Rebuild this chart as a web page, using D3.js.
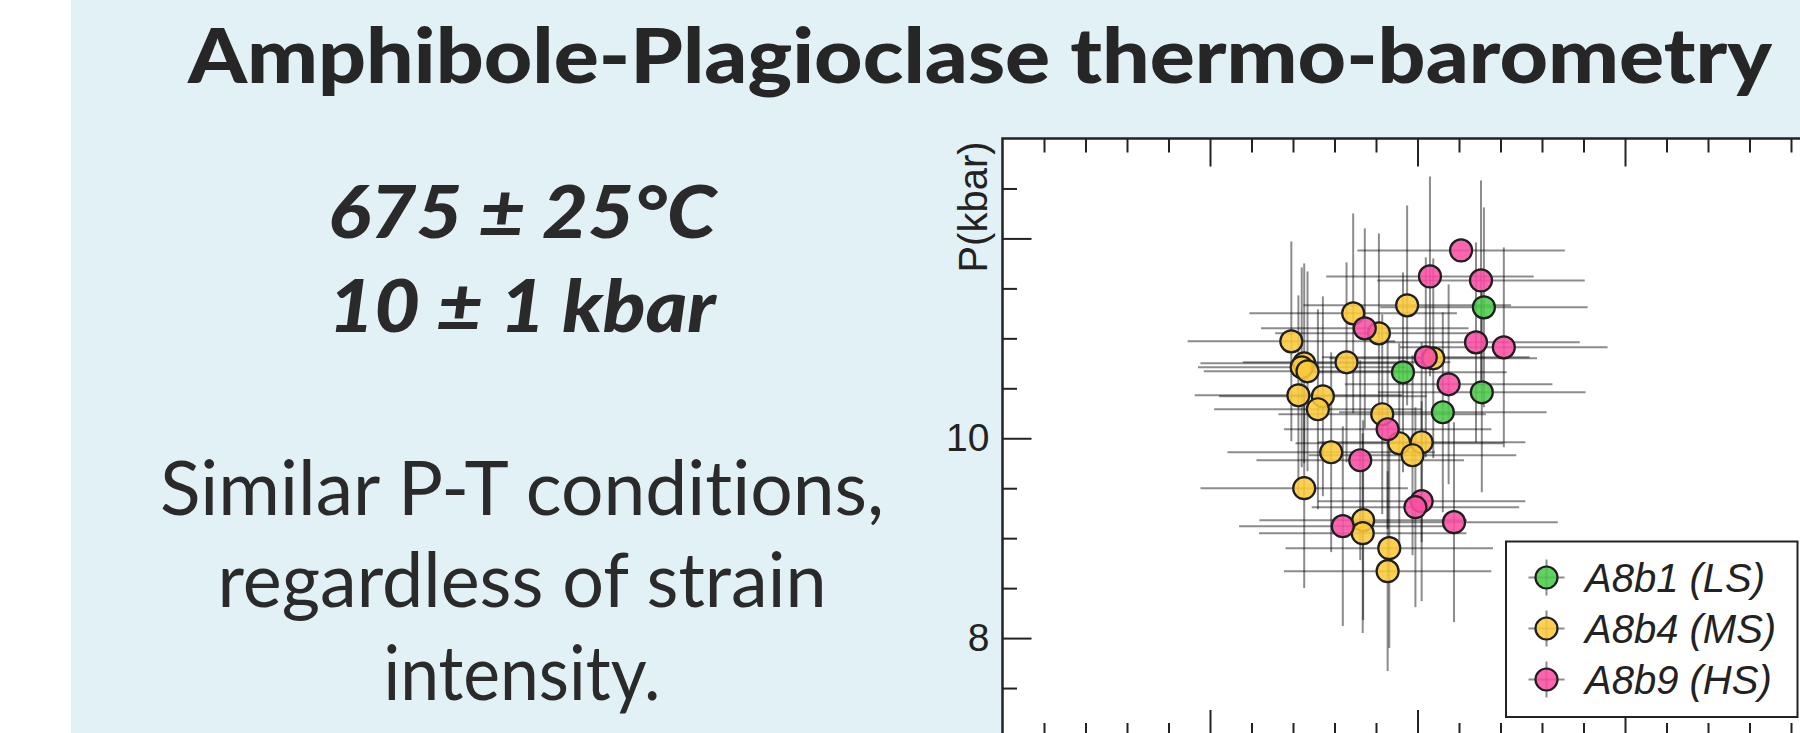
<!DOCTYPE html>
<html>
<head>
<meta charset="utf-8">
<script src="https://cdn.jsdelivr.net/npm/d3@7"></script>
<style>
  body { margin: 0; background: #fff; }
  svg { display: block; }
  text { font-variant-ligatures: none; }
</style>
</head>
<body>
<svg id="chart"></svg>
<script>
// Series (T in °C, P in kbar)
const seriesNames = ["A8b1 (LS)", "A8b4 (MS)", "A8b9 (HS)"];

const lsT = [691.0, 671.5, 690.5, 681.1];
const lsP = [11.31, 10.66, 10.46, 10.26];
const lsPerr = [1, 1, 1, 1];

const msT = [672.5, 659.5, 665.7, 644.6, 657.9, 647.7, 647.1, 648.5, 678.8, 646.3, 652.2,
             651.0, 666.5, 670.6, 676.0, 673.8, 654.2, 647.7, 661.9, 661.8, 668.2, 667.8];
const msP = [11.33, 11.25, 11.05, 10.97, 10.76, 10.75, 10.71, 10.67, 10.80, 10.43, 10.42,
             10.29, 10.24, 9.95, 9.96, 9.83, 9.86, 9.50, 9.18, 9.05, 8.90, 8.67];
const msPerr = [1, 1, 1, 1, 1, 1, 1, 1, 1, 1, 1, 1, 1, 1, 1, 1, 1, 1, 1, 1, 1, 1];

const hsT = [685.5, 678.0, 690.3, 662.3, 689.1, 695.8, 677.0, 682.5, 667.8, 661.2, 676.0, 674.5, 683.8, 657.0];
const hsP = [11.88, 11.62, 11.58, 11.10, 10.96, 10.91, 10.81, 10.54, 10.09, 9.78, 9.37, 9.31, 9.16, 9.12];
const hsPerr = [0, 1, 1, 1, 1, 1, 1, 1, 1, 1, 1, 1, 1, 1];

const tErr = 25; // °C, same for every point

// axis ticks
const yMajorTicks = [8, 10, 12];
const yTickLabels = ["8", "10", ""];
const xMajorTicks = [625, 675, 725, 775];

const colors = ["#4ccb4c", "#fcc93a", "#fb4fa3"];

const W = 1800, H = 733;
const svg = d3.select("#chart").attr("width", W).attr("height", H);

// panel background
svg.append("rect").attr("x", 71).attr("y", 0).attr("width", W - 71).attr("height", H).attr("fill", "#e1f1f5");

// fit a text element to a target width by a light stretch
function fit(sel, target) {
  const w = sel.node().getComputedTextLength();
  if (Math.abs(w - target) > 2) sel.attr("textLength", target).attr("lengthAdjust", "spacingAndGlyphs");
}

const txt = "#2a2a2a";
const title = svg.append("text").attr("x", 980).attr("y", 83).attr("text-anchor", "middle")
  .style("font-family", "Lato, 'Open Sans', sans-serif").style("font-weight", 900)
  .style("font-size", "76px").attr("fill", "#262626")
  .text("Amphibole-Plagioclase thermo-barometry");
fit(title, 1584);

const big = [
  { t: "675 ± 25°C", y: 238, w: 388, bold: true },
  { t: "10 ± 1 kbar", y: 332, w: 387, bold: true },
  { t: "Similar P-T conditions,", y: 515, w: 724, bold: false },
  { t: "regardless of strain", y: 607, w: 609, bold: false },
  { t: "intensity.", y: 700, w: 277, bold: false }
];
big.forEach(d => {
  const s = svg.append("text").attr("x", 522).attr("y", d.y).attr("text-anchor", "middle")
    .style("font-family", "Lato, 'Open Sans', sans-serif")
    .style("font-weight", d.bold ? 900 : 400)
    .style("font-style", d.bold ? "italic" : "normal")
    .style("font-size", d.bold ? "72px" : "75px")
    .attr("fill", txt).text(d.t);
  fit(s, d.w);
});

// plot area
const x0 = 1002.5, x1 = 1832.5, yTop = 138.5, yBot = 738;
const x = d3.scaleLinear().domain([575, 775]).range([x0, x1]);
const y = d3.scaleLinear().domain([7, 13]).range([yBot, yTop]);

svg.append("rect").attr("x", x0).attr("y", yTop).attr("width", x1 - x0).attr("height", yBot - yTop).attr("fill", "#fff");

const axisFont = "'Liberation Sans', Arial, sans-serif";
const minorX = d3.range(585, 775, 10).filter(v => !xMajorTicks.includes(v));
const minorY = d3.range(7.5, 13, 0.5).filter(v => !yMajorTicks.includes(v));

function styleAxis(g) {
  g.select(".domain").remove();
  g.selectAll(".tick line").attr("stroke", "#222").attr("stroke-width", 2);
  g.selectAll(".tick text").attr("fill", "#222").style("font-family", axisFont).style("font-size", "39px");
}

svg.append("g").attr("transform", `translate(0,${yTop})`)
  .call(d3.axisTop(x).tickValues(xMajorTicks).tickSize(-28).tickFormat("")).call(styleAxis);
svg.append("g").attr("transform", `translate(0,${yTop})`)
  .call(d3.axisTop(x).tickValues(minorX).tickSize(-14).tickFormat("")).call(styleAxis);
svg.append("g").attr("transform", `translate(0,${yBot})`)
  .call(d3.axisBottom(x).tickValues(xMajorTicks).tickSize(-28).tickFormat("")).call(styleAxis);
svg.append("g").attr("transform", `translate(0,${yBot})`)
  .call(d3.axisBottom(x).tickValues(minorX).tickSize(-15).tickFormat("")).call(styleAxis);
svg.append("g").attr("transform", `translate(${x0},0)`)
  .call(d3.axisLeft(y).tickValues(yMajorTicks).tickSize(-29).tickPadding(13)
    .tickFormat((d, i) => yTickLabels[i])).call(styleAxis);
svg.append("g").attr("transform", `translate(${x0},0)`)
  .call(d3.axisLeft(y).tickValues(minorY).tickSize(-14.5).tickFormat("")).call(styleAxis);

svg.append("text").attr("transform", `translate(987,207) rotate(-90)`).attr("text-anchor", "middle")
  .style("font-family", axisFont).style("font-size", "40px").attr("fill", "#222").text("P(kbar)");

// data
const series = [
  { T: lsT, P: lsP, e: lsPerr },
  { T: msT, P: msP, e: msPerr },
  { T: hsT, P: hsP, e: hsPerr }
].map((s, k) => s.T.map((t, i) => ({ t, p: s.P[i], pe: s.e[i], k })));
const pts = series.flat();

const bars = svg.append("g").attr("stroke", "#000").attr("stroke-opacity", 0.45).attr("stroke-width", 2);
bars.selectAll(".h").data(pts).join("line")
  .attr("x1", d => x(d.t - tErr)).attr("x2", d => x(d.t + tErr))
  .attr("y1", d => y(d.p)).attr("y2", d => y(d.p));
bars.selectAll(".v").data(pts.filter(d => d.pe > 0)).join("line")
  .attr("x1", d => x(d.t)).attr("x2", d => x(d.t))
  .attr("y1", d => y(d.p - d.pe)).attr("y2", d => y(d.p + d.pe));

svg.append("g").selectAll("circle").data(pts).join("circle")
  .attr("cx", d => x(d.t)).attr("cy", d => y(d.p)).attr("r", 11)
  .attr("fill", d => colors[d.k]).attr("fill-opacity", 0.88)
  .attr("stroke", "#1e1e1e").attr("stroke-width", 2.2);

// frame
svg.append("rect").attr("x", x0).attr("y", yTop).attr("width", x1 - x0).attr("height", yBot - yTop)
  .attr("fill", "none").attr("stroke", "#222").attr("stroke-width", 2.5);

// legend
const lg = svg.append("g");
lg.append("rect").attr("x", 1506).attr("y", 541.5).attr("width", 291.5).attr("height", 175.5)
  .attr("fill", "#fff").attr("stroke", "#222").attr("stroke-width", 2);
const items = lg.selectAll(".item").data(seriesNames).join("g")
  .attr("transform", (d, i) => `translate(1546.5,${577.5 + i * 51})`);
items.append("line").attr("x1", -18).attr("x2", 18).attr("stroke", "#000").attr("stroke-opacity", 0.45).attr("stroke-width", 2);
items.append("line").attr("y1", -18).attr("y2", 18).attr("stroke", "#000").attr("stroke-opacity", 0.45).attr("stroke-width", 2);
items.append("circle").attr("r", 11).attr("fill", (d, i) => colors[i]).attr("fill-opacity", 0.88)
  .attr("stroke", "#1e1e1e").attr("stroke-width", 2.2);
items.append("text").attr("x", 38.5).attr("y", 14).style("font-family", axisFont)
  .style("font-style", "italic").style("font-size", "40px").attr("fill", "#222").text(d => d);
</script>
</body>
</html>
